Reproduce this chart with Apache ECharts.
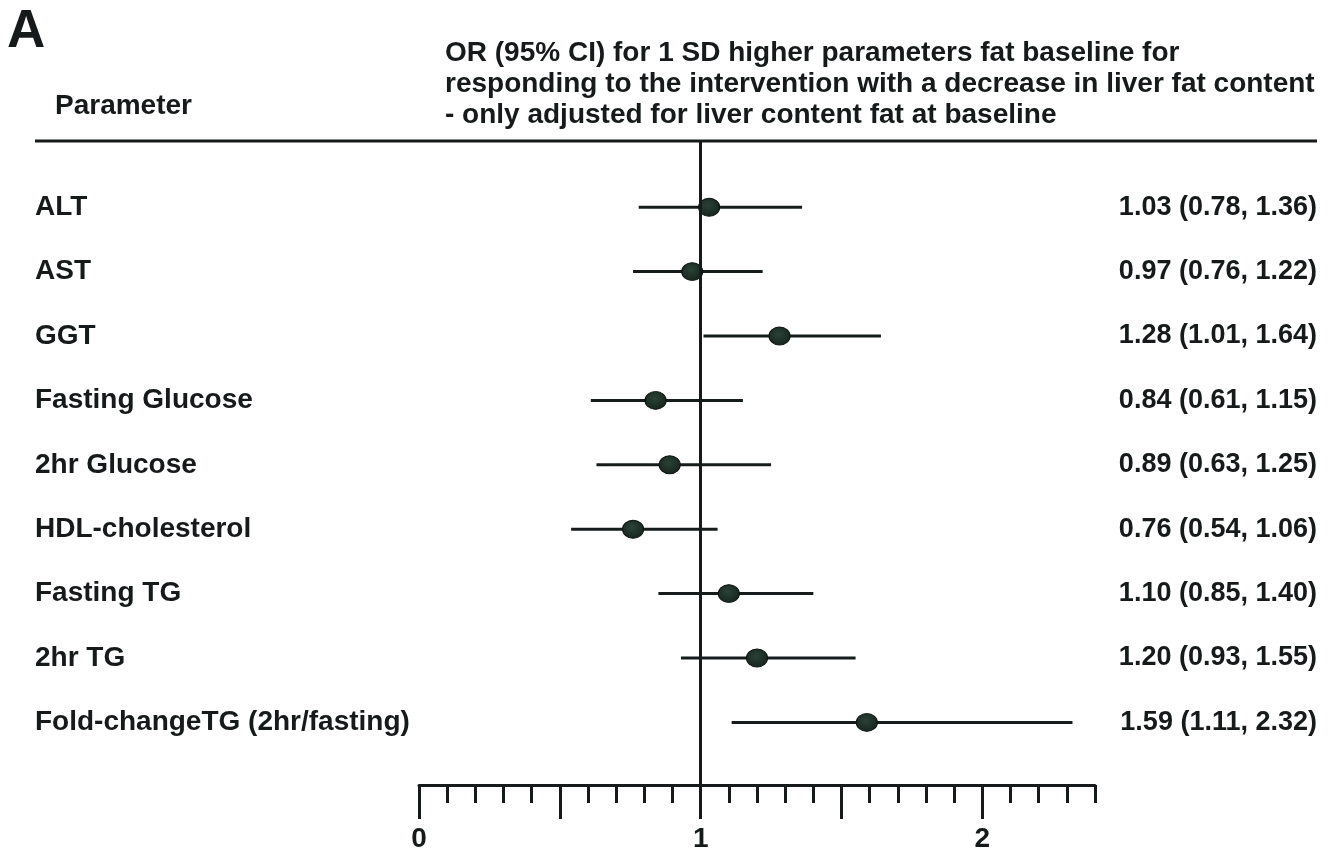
<!DOCTYPE html>
<html>
<head>
<meta charset="utf-8">
<title>Forest plot</title>
<script src="https://cdn.jsdelivr.net/npm/echarts@6/dist/echarts.min.js"></script>
<style>
  html, body { margin: 0; padding: 0; background: #fff; }
  #chart { width: 1333px; height: 854px; }
</style>
</head>
<body>
<div id="chart"></div>
<script>
// Parameters (top to bottom) with odds ratios and 95% confidence limits
const parameters = ['ALT', 'AST', 'GGT', 'Fasting Glucose', '2hr Glucose',
  'HDL-cholesterol', 'Fasting TG', '2hr TG', 'Fold-changeTG (2hr/fasting)'];
const oddsRatio = [1.03, 0.97, 1.28, 0.84, 0.89, 0.76, 1.10, 1.20, 1.59];
const ciLower   = [0.78, 0.76, 1.01, 0.61, 0.63, 0.54, 0.85, 0.93, 1.11];
const ciUpper   = [1.36, 1.22, 1.64, 1.15, 1.25, 1.06, 1.40, 1.55, 2.32];

// Scale settings
const axisMin = 0;
const axisMax = 2.4;
const minorStep = 0.1;
const majorTicks = [0, 0.5, 1, 1.5, 2];
const tickLabels = [0, 1, 2];
const referenceValue = 1;

const headerText = 'OR (95% CI) for 1 SD higher parameters fat baseline for\n' +
  'responding to the intervention with a decrease in liver fat content\n' +
  '- only adjusted for liver content fat at baseline';

const FONT = '"Liberation Sans", Arial, Helvetica, sans-serif';
const INK = '#161a1b';

const ciText = oddsRatio.map((v, i) =>
  `${v.toFixed(2)} (${ciLower[i].toFixed(2)}, ${ciUpper[i].toFixed(2)})`);

const chart = echarts.init(document.getElementById('chart'), null, { renderer: 'canvas' });

const plotLeft = 419;
const plotRight = 1333 - 1095;

chart.setOption({
  backgroundColor: '#ffffff',
  animation: false,
  textStyle: { fontFamily: FONT },
  title: [
    {
      text: 'A', left: 7, top: 6, padding: 0,
      textStyle: { fontFamily: FONT, fontSize: 53, fontWeight: 'bold', color: INK, lineHeight: 53 }
    },
    {
      text: headerText, left: 445, top: 38, padding: 0,
      textStyle: { fontFamily: FONT, fontSize: 28, fontWeight: 'bold', color: INK, lineHeight: 31 }
    },
    {
      text: 'Parameter', left: 55, top: 92, padding: 0,
      textStyle: { fontFamily: FONT, fontSize: 28, fontWeight: 'bold', color: INK, lineHeight: 28 }
    }
  ],
  graphic: [
    {
      type: 'line', silent: true,
      shape: { x1: 35, y1: 141, x2: 1317, y2: 141 },
      style: { stroke: INK, lineWidth: 3 }
    }
  ],
  grid: [
    // rows of estimates
    { left: plotLeft, right: plotRight, top: 175, height: 579.6, containLabel: false },
    // frame holding the reference line and the scale
    { left: plotLeft, right: plotRight, top: 141, bottom: 69, containLabel: false }
  ],
  xAxis: [
    { gridIndex: 0, type: 'value', min: axisMin, max: axisMax, show: false },
    {
      gridIndex: 1, type: 'value', min: axisMin, max: axisMax, interval: minorStep,
      position: 'bottom',
      axisLine: { show: true, lineStyle: { color: INK, width: 3 } },
      axisTick: { show: true, length: 18, lineStyle: { color: INK, width: 3 } },
      axisLabel: { show: false },
      splitLine: { show: false }
    },
    {
      gridIndex: 1, type: 'value', min: axisMin, max: axisMax,
      position: 'bottom',
      axisLine: { show: false },
      axisTick: { show: true, length: 34, customValues: majorTicks, lineStyle: { color: INK, width: 3 } },
      axisLabel: {
        show: true, customValues: tickLabels, margin: 40,
        fontFamily: FONT, fontSize: 28, fontWeight: 'bold', color: INK
      },
      splitLine: { show: false }
    }
  ],
  yAxis: [
    {
      gridIndex: 0, type: 'category', data: parameters, inverse: true,
      position: 'left',
      axisLine: { show: false }, axisTick: { show: false }, splitLine: { show: false },
      axisLabel: {
        align: 'left', margin: plotLeft - 35,
        fontFamily: FONT, fontSize: 28, fontWeight: 'bold', color: INK
      }
    },
    {
      gridIndex: 0, type: 'category', data: ciText, inverse: true,
      position: 'right',
      axisLine: { show: false }, axisTick: { show: false }, splitLine: { show: false },
      axisLabel: {
        align: 'right', margin: 1317 - 1095,
        fontFamily: FONT, fontSize: 27, fontWeight: 'bold', color: INK
      }
    },
    { gridIndex: 1, type: 'value', min: 0, max: 1, show: false }
  ],
  series: [
    {
      // confidence interval whiskers
      type: 'custom',
      xAxisIndex: 0, yAxisIndex: 0,
      data: parameters.map((p, i) => [ciLower[i], ciUpper[i], i]),
      renderItem: (params, api) => {
        const a = api.coord([api.value(0), api.value(2)]);
        const b = api.coord([api.value(1), api.value(2)]);
        return {
          type: 'line',
          shape: { x1: a[0], y1: a[1], x2: b[0], y2: b[1] },
          style: { stroke: '#161c1c', lineWidth: 3 }
        };
      },
      z: 2,
      silent: true
    },
    {
      // point estimates
      type: 'scatter',
      xAxisIndex: 0, yAxisIndex: 0,
      data: oddsRatio.map((v, i) => [v, i]),
      symbol: 'circle',
      symbolSize: [21, 18],
      itemStyle: {
        opacity: 1,
        color: new echarts.graphic.RadialGradient(0.45, 0.4, 0.7, [
          { offset: 0, color: '#2a4238' },
          { offset: 1, color: '#13201a' }
        ]),
        borderColor: '#0c130f', borderWidth: 1
      },
      z: 3,
      silent: true
    },
    {
      // line of no effect
      type: 'line',
      xAxisIndex: 1, yAxisIndex: 2,
      data: [],
      silent: true,
      markLine: {
        silent: true,
        symbol: ['none', 'none'],
        label: { show: false },
        lineStyle: { color: INK, width: 3, type: 'solid' },
        data: [{ xAxis: referenceValue }]
      },
      z: 1
    }
  ]
});
</script>
</body>
</html>
